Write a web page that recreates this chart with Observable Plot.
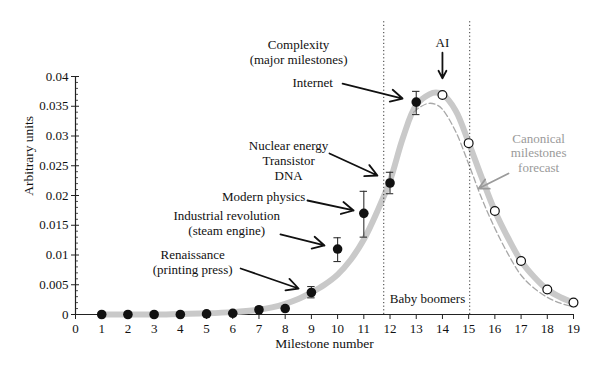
<!DOCTYPE html>
<html><head><meta charset="utf-8">
<script src="https://cdn.jsdelivr.net/npm/d3@7"></script>
<script src="https://cdn.jsdelivr.net/npm/@observablehq/plot@0.6"></script>
<style>
body{margin:0;background:#fff;}
#chart svg{display:block;}
</style></head><body><div id="chart"></div>
<script>
// ---- data ----
const milestones = [1,2,3,4,5,6,7,8,9,10,11,12,13];
const observed   = [0,0,0,0,0.0001,0.0002,0.0008,0.0010,0.0037,0.0110,0.0170,0.0221,0.0357];
const errLow     = [null,null,null,null,null,null,null,null,0.0028,0.0089,0.0130,0.0203,0.0336];
const errHigh    = [null,null,null,null,null,null,null,null,0.0047,0.0129,0.0207,0.0239,0.0375];

const forecastX = [14,15,16,17,18,19];
const forecastY = [0.0369,0.0288,0.0174,0.0090,0.0042,0.0020];

const fitX = [1,2,3,4,5,6,7,7.5,8,8.5,9,9.5,10,10.5,11,11.5,12,12.5,13,13.5,13.75,14,14.5,15,15.5,16,16.5,17,17.5,18,18.5,19];
const fitY = [0,0,0,0.0001,0.0002,0.0004,0.0008,0.0012,0.0018,0.0026,0.0037,0.0050,0.0067,0.0092,0.0126,0.0172,0.0225,0.0298,0.0352,0.0370,0.0373,0.0370,0.0343,0.0289,0.0230,0.0174,0.0129,0.0090,0.0063,0.0042,0.0029,0.0020];

const dashX = [12.9,13.2,13.5,13.8,14.0,14.5,15.0,15.5,16.0,16.5,17.0,17.5,18.0,18.5,19.0];
const dashY = [0.0340,0.0350,0.0355,0.0352,0.0345,0.0308,0.0253,0.0195,0.0145,0.0102,0.0066,0.0044,0.0029,0.0019,0.0013];

const eraLines = [11.76, 15.04];

const xTicks = [0,1,2,3,4,5,6,7,8,9,10,11,12,13,14,15,16,17,18,19];
const yTicks = [0,0.005,0.01,0.015,0.02,0.025,0.03,0.035,0.04];
const yMinor = d3.range(1,40).filter(i => i % 5 !== 0).map(i => i/1000);

const annotations = [
  {text:"Complexity\n(major milestones)", x:8.51, y:0.0430+0.00118, color:"#111"},
  {text:"AI", x:14.0, y:0.0458, color:"#111"},
  {text:"Internet", x:9.05, y:0.0390, color:"#111"},
  {text:"Nuclear energy\nTransistor\nDNA", x:8.13, y:0.0260, color:"#111"},
  {text:"Modern physics", x:7.18, y:0.0199, color:"#111"},
  {text:"Industrial revolution\n(steam engine)", x:5.77, y:0.0154, color:"#111"},
  {text:"Renaissance\n(printing press)", x:4.47, y:0.0089, color:"#111"},
  {text:"Baby boomers", x:13.43, y:0.0027, color:"#111"},
  {text:"Canonical\nmilestones\nforecast", x:17.67, y:0.0272, color:"#9a9a9a"}
];
const arrows = [
  {x1:14.0, y1:0.0440, x2:14.0, y2:0.0397, color:"#111"},
  {x1:10.19, y1:0.0388, x2:12.48, y2:0.0363, color:"#111"},
  {x1:9.69, y1:0.02706, x2:11.52, y2:0.02336, color:"#111"},
  {x1:8.85, y1:0.01916, x2:10.61, y2:0.01748, color:"#111"},
  {x1:7.82, y1:0.01345, x2:9.50, y2:0.0116, color:"#111"},
  {x1:6.30, y1:0.00773, x2:8.51, y2:0.00437, color:"#111"},
  {x1:16.52, y1:0.0237, x2:15.38, y2:0.02118, color:"#9a9a9a"}
];

// ---- build tables ----
const obs = milestones.map((m,i)=>({x:m, y:observed[i], lo:errLow[i], hi:errHigh[i]}));
const errs = obs.filter(d => d.lo != null);
const fc = forecastX.map((m,i)=>({x:m, y:forecastY[i]}));
const fit = fitX.map((m,i)=>({x:m, y:fitY[i]}));
const dash = dashX.map((m,i)=>({x:m, y:dashY[i]}));

const marginLeft = 75, marginRight = 27, width = 600;
const unit = (width - marginLeft - marginRight) / (xTicks[xTicks.length-1] - xTicks[0]);
const px = p => p / unit;

const chart = Plot.plot({
  width: 600, height: 372,
  marginLeft, marginRight, marginTop: 16.5, marginBottom: 58,
  style: {fontFamily: "'Liberation Serif', 'DejaVu Serif', serif", fontSize: "13px", color: "#111", background: "#fff"},
  x: {domain: [xTicks[0], xTicks[xTicks.length-1]], axis: null},
  y: {domain: [0, 0.05], axis: null},
  marks: [
    // axes
    Plot.ruleY([0], {x1: xTicks[0], x2: xTicks[xTicks.length-1], stroke: "#222", strokeWidth: 1.2}),
    Plot.ruleX([0], {y1: yTicks[0], y2: yTicks[yTicks.length-1], stroke: "#222", strokeWidth: 1.2}),
    Plot.axisX({ticks: xTicks, tickSize: 5, tickPadding: 4, tickFormat: d => String(d), stroke: "#222", fontSize: 13}),
    Plot.axisY({ticks: yTicks, tickSize: 4, tickPadding: 3, tickFormat: d => String(d), stroke: "#222", fontSize: 13}),
    Plot.ruleY(yTicks, {x1: 0, x2: px(4), stroke: "#222"}),
    Plot.ruleY(yMinor, {x1: 0, x2: px(3), stroke: "#222", strokeWidth: 0.8}),
    Plot.text(["Milestone number"], {frameAnchor: "bottom", dy: 33, fontSize: 13.5}),
    Plot.text(["Arbitrary units"], {frameAnchor: "left", rotate: -90, dx: -47, dy: 30, fontSize: 13.5}),
    // curves
    Plot.line(fit, {x: "x", y: "y", stroke: "#c9c9c9", strokeWidth: 6, curve: "catmull-rom", strokeLinecap: "round"}),
    Plot.line(dash, {x: "x", y: "y", stroke: "#a8a8a8", strokeWidth: 1.3, strokeDasharray: "6,3", curve: "catmull-rom"}),
    // era lines
    Plot.ruleX(eraLines, {y1: 0, y2: 0.0494, stroke: "#333", strokeWidth: 1, strokeDasharray: "1.2,2.4"}),
    // error bars
    Plot.ruleX(errs, {x: "x", y1: "lo", y2: "hi", stroke: "#333", strokeWidth: 1.1}),
    Plot.ruleY(errs, {y: "lo", x1: d => d.x - px(3.7), x2: d => d.x + px(3.7), stroke: "#333", strokeWidth: 1.1}),
    Plot.ruleY(errs, {y: "hi", x1: d => d.x - px(3.7), x2: d => d.x + px(3.7), stroke: "#333", strokeWidth: 1.1}),
    // points
    Plot.dot(obs, {x: "x", y: "y", r: 4.8, fill: "#111"}),
    Plot.dot(fc, {x: "x", y: "y", r: 4.4, fill: "#fff", stroke: "#111", strokeWidth: 1.2}),
    // annotations
    Plot.arrow(arrows, {x1: "x1", y1: "y1", x2: "x2", y2: "y2", stroke: d => d.color, strokeWidth: 1.8, headLength: 11, headAngle: 55}),
    Plot.text(annotations, {x: "x", y: "y", text: "text", fill: d => d.color, fontSize: 13, lineHeight: 1.15, textAnchor: "middle", lineAnchor: "middle"})
  ]
});
document.getElementById("chart").appendChild(chart);
</script>
</body></html>
